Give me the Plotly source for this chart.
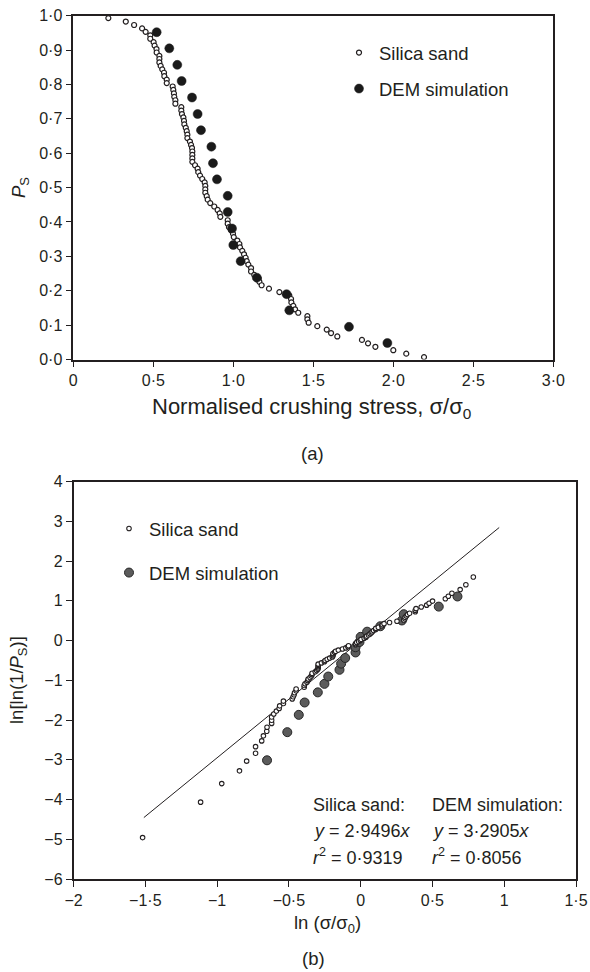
import numpy as np
import plotly.graph_objects as go

# ---------------- data ----------------
# Silica sand: normalised crushing stress and survival probability
sand_stress = [0.219, 0.328, 0.380, 0.430, 0.452, 0.481, 0.481, 0.502, 0.508, 0.520,
               0.521, 0.538, 0.538, 0.538, 0.546, 0.556, 0.567, 0.569, 0.584, 0.584,
               0.621, 0.625, 0.629, 0.631, 0.638, 0.638, 0.675, 0.675, 0.679, 0.688,
               0.692, 0.694, 0.703, 0.709, 0.713, 0.713, 0.729, 0.736, 0.742, 0.744,
               0.744, 0.744, 0.744, 0.761, 0.777, 0.781, 0.792, 0.806, 0.821, 0.825,
               0.825, 0.825, 0.834, 0.840, 0.856, 0.881, 0.902, 0.915, 0.919, 0.965,
               0.965, 0.973, 0.986, 0.998, 1.003, 1.025, 1.038, 1.042, 1.056, 1.067,
               1.077, 1.084, 1.094, 1.111, 1.111, 1.131, 1.159, 1.163, 1.177, 1.223,
               1.288, 1.350, 1.361, 1.363, 1.375, 1.386, 1.406, 1.463, 1.463, 1.471,
               1.525, 1.584, 1.611, 1.650, 1.804, 1.842, 1.888, 2.000, 2.081, 2.192]
sand_ps = [0.993, 0.983, 0.973, 0.963, 0.953, 0.943, 0.933, 0.923, 0.913, 0.903,
           0.893, 0.883, 0.874, 0.864, 0.854, 0.844, 0.834, 0.824, 0.814, 0.804,
           0.794, 0.784, 0.774, 0.764, 0.754, 0.744, 0.734, 0.724, 0.714, 0.704,
           0.694, 0.684, 0.674, 0.664, 0.654, 0.644, 0.634, 0.624, 0.615, 0.605,
           0.595, 0.585, 0.575, 0.565, 0.555, 0.545, 0.535, 0.525, 0.515, 0.505,
           0.495, 0.485, 0.475, 0.465, 0.455, 0.445, 0.435, 0.425, 0.415, 0.405,
           0.395, 0.385, 0.376, 0.366, 0.356, 0.346, 0.336, 0.326, 0.316, 0.306,
           0.296, 0.286, 0.276, 0.266, 0.256, 0.246, 0.236, 0.226, 0.216, 0.206,
           0.196, 0.186, 0.176, 0.166, 0.156, 0.146, 0.136, 0.126, 0.117, 0.107,
           0.097, 0.087, 0.077, 0.067, 0.057, 0.047, 0.037, 0.027, 0.017, 0.007]

# DEM simulation
dem_stress = [0.521, 0.600, 0.650, 0.677, 0.742, 0.777, 0.798, 0.863, 0.873, 0.898,
              0.965, 0.965, 0.992, 1.000, 1.046, 1.147, 1.333, 1.350, 1.723, 1.963]
dem_ps = [0.952, 0.905, 0.857, 0.810, 0.762, 0.714, 0.667, 0.619, 0.571, 0.524,
          0.476, 0.429, 0.381, 0.333, 0.286, 0.238, 0.190, 0.143, 0.095, 0.048]

# Weibull fit line for silica sand
fit_slope = 2.9496
fit_x = [-1.51, 0.965]

# tick labels
top_x_vals = [0, 0.5, 1.0, 1.5, 2.0, 2.5, 3.0]
top_x_text = ["0", "0·5", "1·0", "1·5", "2·0", "2·5", "3·0"]
top_y_vals = [0.0, 0.1, 0.2, 0.3, 0.4, 0.5, 0.6, 0.7, 0.8, 0.9, 1.0]
top_y_text = ["0·0", "0·1", "0·2", "0·3", "0·4", "0·5", "0·6", "0·7", "0·8", "0·9", "1·0"]
bot_x_vals = [-2, -1.5, -1, -0.5, 0, 0.5, 1, 1.5]
bot_x_text = ["−2", "−1·5", "−1", "−0·5", "0", "0·5", "1", "1·5"]
bot_y_vals = [-6, -5, -4, -3, -2, -1, 0, 1, 2, 3, 4]
bot_y_text = ["−6", "−5", "−4", "−3", "−2", "−1", "0", "1", "2", "3", "4"]

# ---------------- derived (Weibull plot coordinates) ----------------
sand_lnx = np.log(np.array(sand_stress))
sand_lny = np.log(np.log(1.0 / np.array(sand_ps)))
dem_lnx = np.log(np.array(dem_stress))
dem_lny = np.log(np.log(1.0 / np.array(dem_ps)))
fit_y = [fit_slope * v for v in fit_x]

INK = "#231f20"
FONT = "Arial, Liberation Sans, sans-serif"
W, H = 590, 972
TXT = 18.5

fig = go.Figure()

# ---- (a) ----
fig.add_trace(go.Scatter(
    x=sand_stress, y=sand_ps, mode="markers", name="Silica sand",
    marker=dict(size=5, color="white", line=dict(color=INK, width=1.2)),
    xaxis="x", yaxis="y", legend="legend", legendgroup="a1"))
fig.add_trace(go.Scatter(
    x=dem_stress, y=dem_ps, mode="markers", name="DEM simulation",
    marker=dict(size=9, color="#1a1a1a", line=dict(color="#1a1a1a", width=0.5)),
    xaxis="x", yaxis="y", legend="legend", legendgroup="a2"))

# ---- (b) ----
fig.add_trace(go.Scatter(
    x=fit_x, y=fit_y, mode="lines", showlegend=False,
    line=dict(color=INK, width=1), xaxis="x2", yaxis="y2"))
fig.add_trace(go.Scatter(
    x=dem_lnx, y=dem_lny, mode="markers", name="DEM simulation",
    marker=dict(size=9, color="#5b5b5b", line=dict(color="#262626", width=1)),
    xaxis="x2", yaxis="y2", legend="legend2", legendgroup="b2"))
fig.add_trace(go.Scatter(
    x=sand_lnx, y=sand_lny, mode="markers", name="Silica sand",
    marker=dict(size=4.5, color="white", line=dict(color=INK, width=1.1)),
    xaxis="x2", yaxis="y2", legend="legend2", legendgroup="b1", legendrank=1))

axis_common = dict(
    showgrid=False, zeroline=False, showline=True, mirror=True,
    linecolor=INK, linewidth=1.5, ticks="outside", ticklen=6, tickwidth=1.3,
    tickcolor=INK, tickfont=dict(family=FONT, size=16, color=INK),
    tickmode="array", automargin=False)

fig.update_layout(
    width=W, height=H,
    margin=dict(l=0, r=0, t=0, b=0),
    paper_bgcolor="white", plot_bgcolor="white",
    font=dict(family=FONT, color=INK),
    xaxis=dict(domain=[73.3 / W, 553.3 / W], range=[0, 3.0], anchor="y",
               tickvals=top_x_vals, ticktext=top_x_text, **axis_common),
    yaxis=dict(domain=[1 - 359.5 / H, 1 - 15.7 / H], range=[0, 1.0], anchor="x",
               tickvals=top_y_vals, ticktext=top_y_text, **axis_common),
    xaxis2=dict(domain=[73.5 / W, 576 / W], range=[-2, 1.5], anchor="y2",
                tickvals=bot_x_vals, ticktext=bot_x_text, **axis_common),
    yaxis2=dict(domain=[1 - 879 / H, 1 - 481.7 / H], range=[-6, 4], anchor="x2",
                tickvals=bot_y_vals, ticktext=bot_y_text, **axis_common),
    legend=dict(x=339 / W, y=1 - 34 / H, xanchor="left", yanchor="top",
                bgcolor="rgba(0,0,0,0)", font=dict(family=FONT, size=TXT, color=INK),
                tracegroupgap=9, itemsizing="trace"),
    legend2=dict(x=109 / W, y=1 - 510 / H, xanchor="left", yanchor="top",
                 bgcolor="rgba(0,0,0,0)", font=dict(family=FONT, size=TXT, color=INK),
                 tracegroupgap=17, itemsizing="trace", traceorder="grouped"),
)

ann = []
def add_text(x, y, text, size=TXT, angle=0, xanchor="center"):
    ann.append(dict(x=x / W, y=1 - y / H, xref="paper", yref="paper", text=text,
                    showarrow=False, textangle=angle, xanchor=xanchor, yanchor="middle",
                    font=dict(family=FONT, size=size, color=INK)))

add_text(311, 408, "Normalised crushing stress, σ/σ<sub>0</sub>", size=22)
add_text(312, 454, "(a)")
add_text(20, 188, "<i>P</i><sub>S</sub>", angle=-90)
add_text(18, 680, "ln[ln(1/<i>P</i><sub>S</sub>)]", angle=-90)
add_text(327, 924, "ln (σ/σ<sub>0</sub>)")
add_text(313, 958, "(b)")
add_text(311, 805, "Silica sand:", size=18, xanchor="left")
add_text(311, 831, "<i>y</i> = 2·9496<i>x</i>", size=18, xanchor="left")
add_text(311, 856, "<i>r</i><sup>2</sup> = 0·9319", size=18, xanchor="left")
add_text(430, 805, "DEM simulation:", size=18, xanchor="left")
add_text(430, 831, "<i>y</i> = 3·2905<i>x</i>", size=18, xanchor="left")
add_text(430, 856, "<i>r</i><sup>2</sup> = 0·8056", size=18, xanchor="left")
fig.update_layout(annotations=ann)

fig.write_html("out.html")
